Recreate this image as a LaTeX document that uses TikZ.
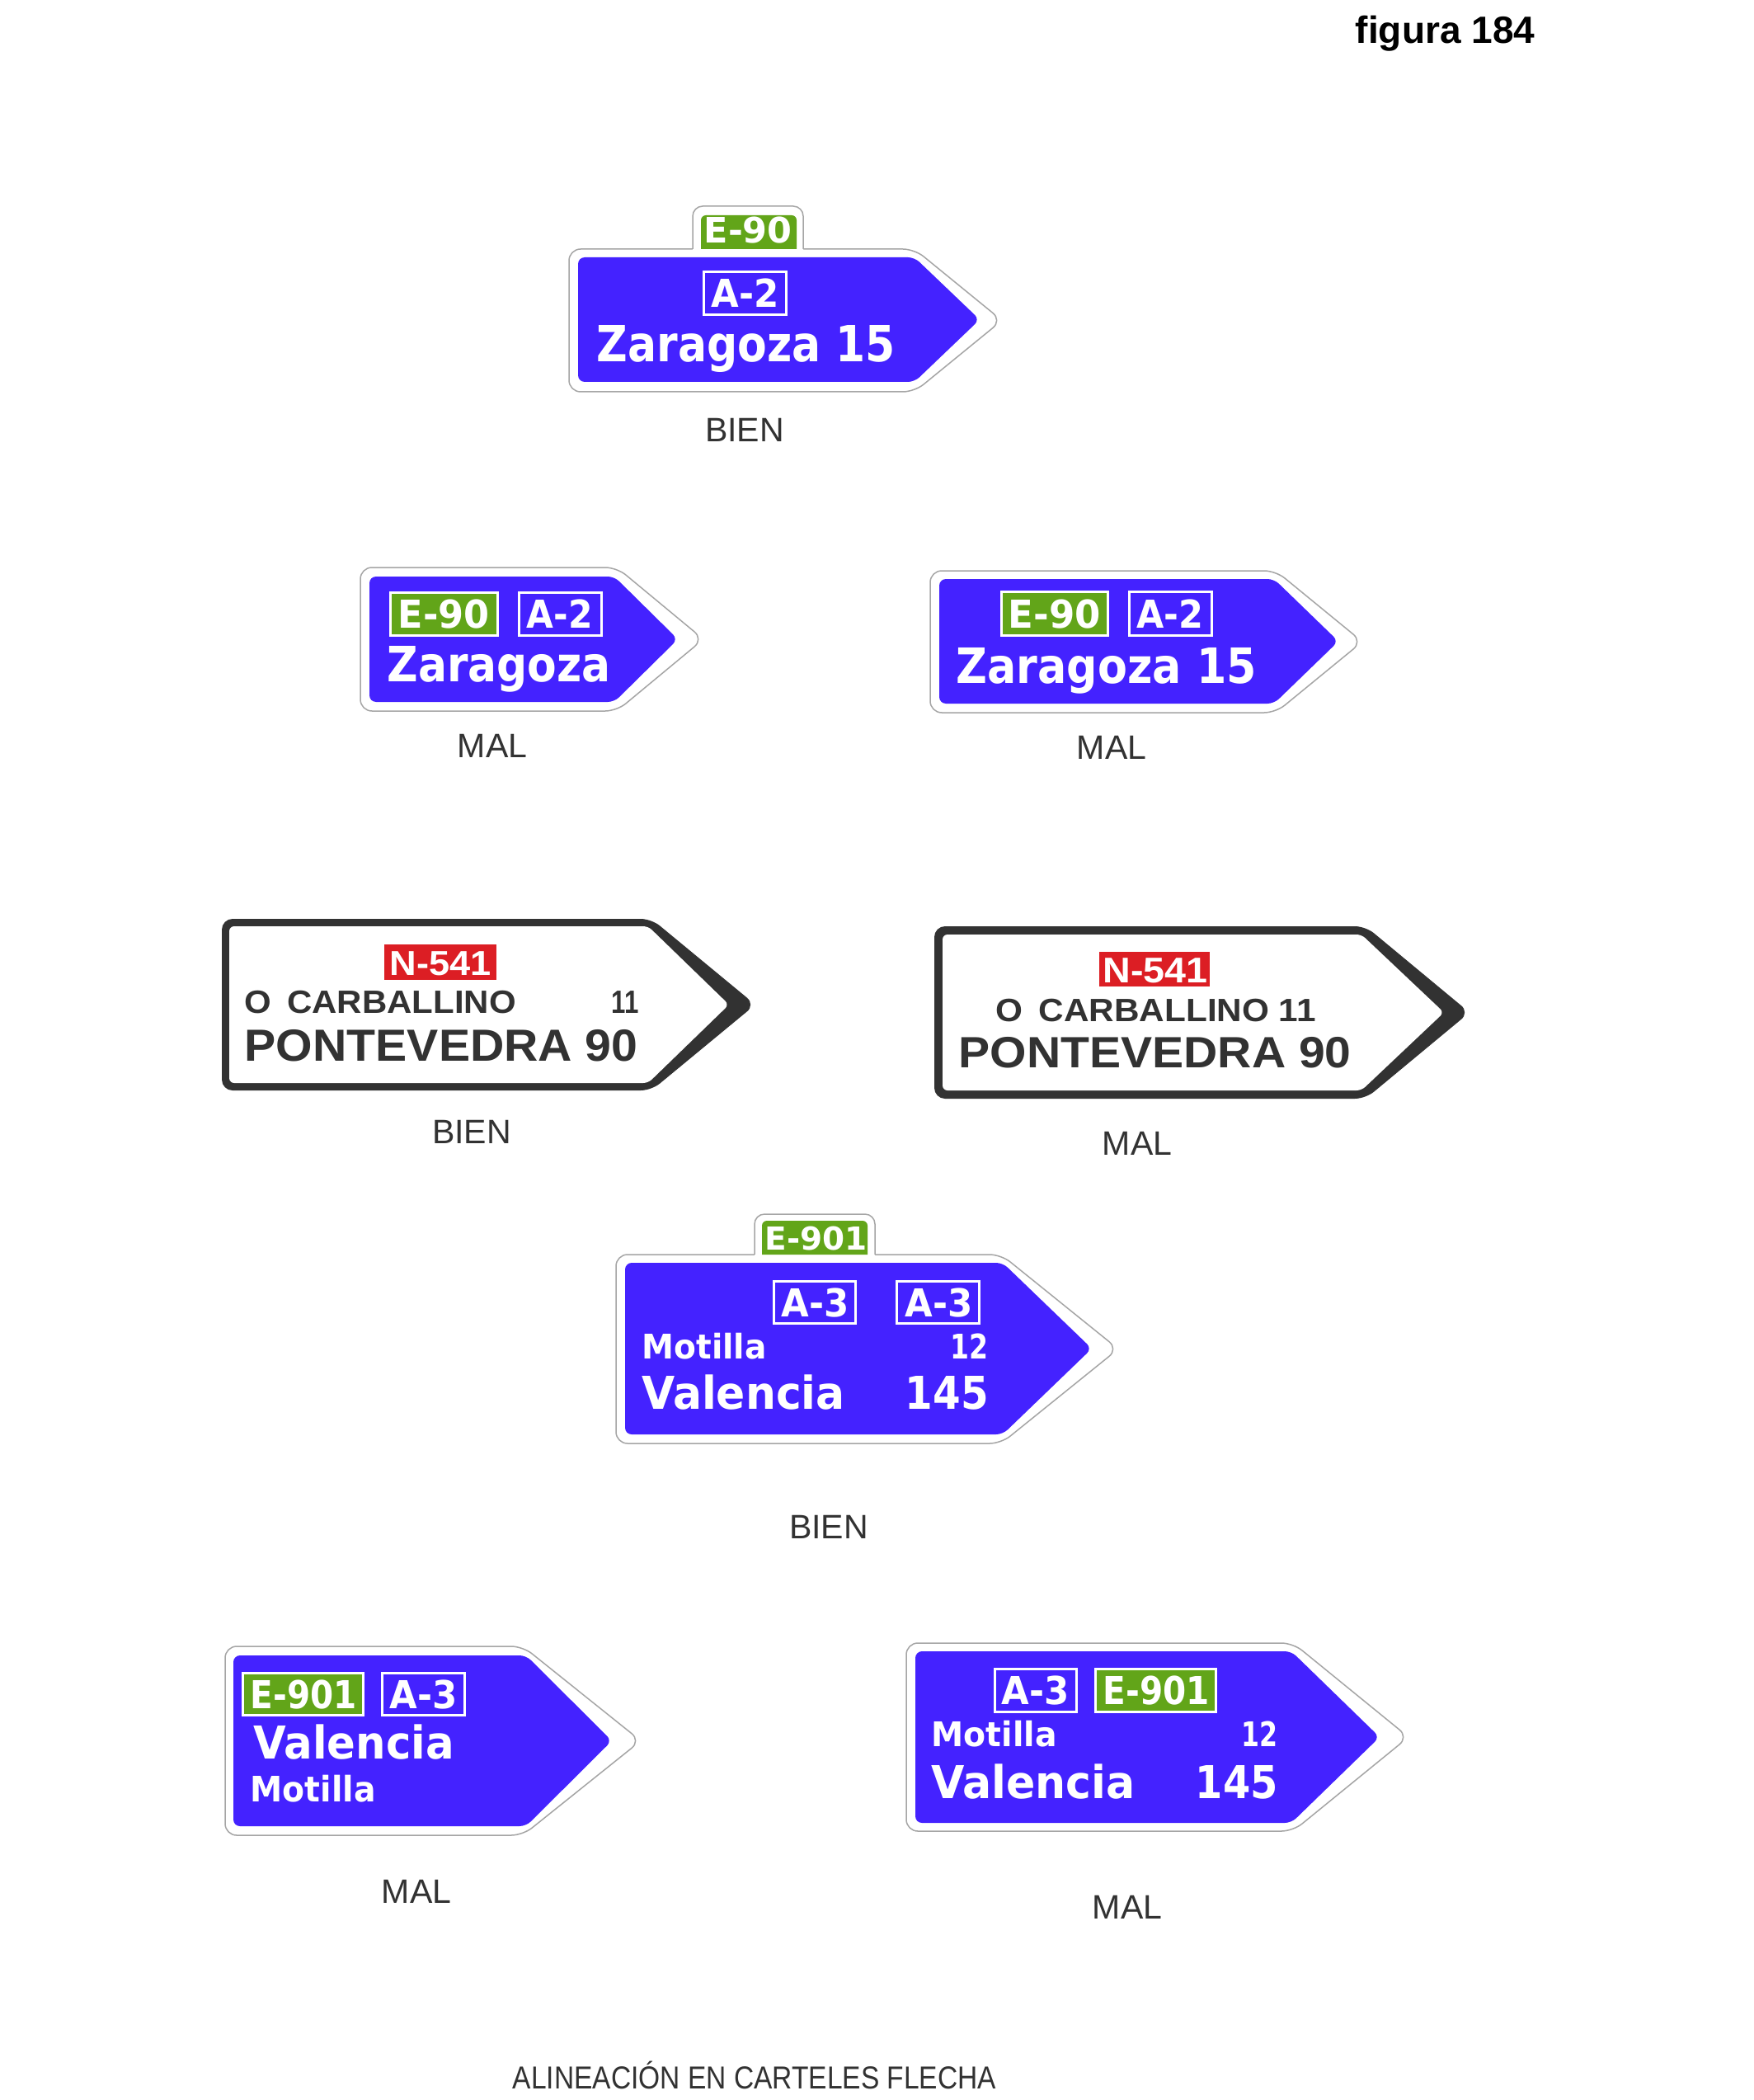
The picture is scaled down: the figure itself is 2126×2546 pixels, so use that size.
\documentclass[tikz,border=0pt]{standalone}
\usepackage{fontspec}
\usepackage{graphicx}
\setmainfont{Liberation Sans}
\newfontfamily\signfont{DejaVu Sans}
\newfontfamily\wfont{Liberation Sans}
\definecolor{sblue}{RGB}{68,34,255}
\definecolor{sgreen}{RGB}{98,165,25}
\definecolor{sred}{RGB}{220,30,36}
\definecolor{sgray}{RGB}{165,165,165}
\definecolor{sdark}{RGB}{50,50,50}
\newlength\pxu \setlength\pxu{0.01cm}
\tikzset{
  signouter/.style={fill=white, draw=sgray, line width=0.015cm, rounded corners=0.14cm},
  signblue/.style={fill=sblue, rounded corners=0.08cm},
  wouter/.style={fill=sdark, rounded corners=0.13cm},
  winner/.style={fill=white, rounded corners=0.06cm},
  bluebox/.style={fill=sblue, draw=white, line width=0.03cm},
  greenbox/.style={fill=sgreen, draw=white, line width=0.03cm},
  redbox/.style={fill=sred},
  btxt/.style={anchor=base west, inner sep=0pt, text=white},
  wtxt/.style={anchor=base west, inner sep=0pt, text=sdark},
  lbl/.style={anchor=base, inner sep=0pt, text=sdark, font=\fontsize{11.67pt}{11.67pt}\selectfont},
}
% blue-sign text: name, x, baseline, cap height, width, text
\newcommand\bt[6]{\node[btxt, font=\signfont\bfseries\fontsize{\fpeval{#4*0.3903}pt}{\fpeval{#4*0.3903}pt}\selectfont] (#1) at (#2,#3) {\resizebox{#5\pxu}{\height}{#6}};}
% white-sign text
\newcommand\wt[6]{\node[wtxt, font=\wfont\bfseries\fontsize{\fpeval{#4*0.3974}pt}{\fpeval{#4*0.3974}pt}\selectfont] (#1) at (#2,#3) {\resizebox{#5\pxu}{\height}{#6}};}
% white text on red plate
\newcommand\rt[6]{\node[btxt, font=\wfont\bfseries\fontsize{\fpeval{#4*0.3974}pt}{\fpeval{#4*0.3974}pt}\selectfont] (#1) at (#2,#3) {\resizebox{#5\pxu}{\height}{#6}};}
% arrow shape: style, left, top, start, tip, bottom
\newcommand\arrowshape[6]{\path[#1] (#2,#3) -- (#4,#3) -- (#5,{(#3+#6)/2}) -- (#4,#6) -- (#2,#6) -- cycle;}
\begin{document}
\begin{tikzpicture}[x=0.01cm, y=-0.01cm]
\useasboundingbox (0,0) rectangle (2126,2546);
\fill[white] (0,0) rectangle (2126,2546);

% ---------- title ----------
\node[anchor=base west, inner sep=0pt, font=\bfseries\fontsize{13.1pt}{13.1pt}\selectfont] (fig) at (1643,53) {figura 184};

% ---------- sign 1 (BIEN) ----------
\arrowshape{signouter}{690}{302}{1109}{1215}{475}
\fill[white, rounded corners=0.12cm] (840,306) -- (840,250) -- (974,250) -- (974,306);
\draw[sgray, line width=0.015cm, rounded corners=0.12cm] (840,302) -- (840,250) -- (974,250) -- (974,302);
\fill[sgreen, rounded corners=0.06cm] (850,302) -- (850,261) -- (966,261) -- (966,302);
\arrowshape{signblue}{701}{312}{1109}{1188}{463}
\path[bluebox] (853,330) rectangle (953,382);
\bt{s1e}{853}{295}{31}{107}{E-90}
\bt{s1a}{862}{373}{34}{82}{A-2}
\bt{s1z}{723}{439}{44}{362}{Zaragoza 15}
\node[lbl] (l1) at (903,536) {BIEN};

% ---------- sign 2 (MAL) ----------
\arrowshape{signouter}{437}{688}{748}{853}{862}
\arrowshape{signblue}{448}{699}{745}{822}{851}
\path[greenbox] (473,718) rectangle (603,770);
\path[bluebox] (629,718) rectangle (729,770);
\bt{s2e}{482}{761}{34}{111}{E-90}
\bt{s2a}{638}{761}{34}{80}{A-2}
\bt{s2z}{469}{826}{43}{271}{Zaragoza}
\node[lbl] (l2) at (597,918) {MAL};

% ---------- sign 3 (MAL) ----------
\arrowshape{signouter}{1128}{692}{1547}{1652}{864}
\arrowshape{signblue}{1139}{702}{1545}{1623}{853}
\path[greenbox] (1214,717) rectangle (1343,770);
\path[bluebox] (1369,717) rectangle (1469,770);
\bt{s3e}{1222}{761}{34}{112}{E-90}
\bt{s3a}{1378}{761}{34}{81}{A-2}
\bt{s3z}{1159}{828}{43}{364}{Zaragoza 15}
\node[lbl] (l3) at (1348,920) {MAL};

% ---------- sign 4 (BIEN) ----------
\arrowshape{wouter}{269}{1114}{790}{916}{1322}
\arrowshape{winner}{278}{1123}{786}{884}{1313}
\path[redbox] (466,1145) rectangle (602,1188);
\rt{s4n}{472}{1182}{30}{123}{N-541}
\wt{s4c}{296}{1228}{28}{329}{O\hspace{0.45em}CARBALLINO}
\wt{s4k}{741}{1228}{28}{33}{11}
\wt{s4p}{296}{1286}{39}{477}{PONTEVEDRA 90}
\node[lbl] (l4) at (572,1386) {BIEN};

% ---------- sign 5 (MAL) ----------
\arrowshape{wouter}{1133}{1123}{1656}{1782}{1332}
\arrowshape{winner}{1143}{1133}{1651}{1751}{1322}
\path[redbox] (1333,1154) rectangle (1467,1196);
\rt{s5n}{1337}{1191}{31}{127}{N-541}
\wt{s5c}{1207}{1238}{28}{388}{O\hspace{0.45em}CARBALLINO 11}
\wt{s5p}{1162}{1294}{38}{476}{PONTEVEDRA 90}
\node[lbl] (l5) at (1379,1400) {MAL};

% ---------- sign 6 (BIEN) ----------
\arrowshape{signouter}{747}{1521}{1214}{1356}{1750}
\fill[white, rounded corners=0.12cm] (915,1525) -- (915,1472) -- (1061,1472) -- (1061,1525);
\draw[sgray, line width=0.015cm, rounded corners=0.12cm] (915,1521) -- (915,1472) -- (1061,1472) -- (1061,1521);
\fill[sgreen, rounded corners=0.06cm] (924,1521) -- (924,1480) -- (1052,1480) -- (1052,1521);
\arrowshape{signblue}{758}{1531}{1216}{1324}{1739}
\path[bluebox] (938,1553) rectangle (1037,1604);
\path[bluebox] (1087,1553) rectangle (1187,1604);
\bt{s6e}{927}{1515}{28}{124}{E-901}
\bt{s6a}{947}{1596}{34}{82}{A-3}
\bt{s6b}{1097}{1596}{34}{82}{A-3}
\bt{s6m}{778}{1647}{30}{151}{Motilla}
\bt{s6k}{1152}{1647}{30}{46}{12}
\bt{s6v}{778}{1708}{40}{246}{Valencia}
\bt{s6d}{1097}{1708}{40}{101}{145}
\node[lbl] (l6) at (1005,1865) {BIEN};

% ---------- sign 7 (MAL) ----------
\arrowshape{signouter}{273}{1996}{634}{777}{2225}
\arrowshape{signblue}{283}{2007}{638}{742}{2214}
\path[greenbox] (294,2028) rectangle (440,2079);
\path[bluebox] (463,2028) rectangle (563,2079);
\bt{s7e}{303}{2071}{34}{129}{E-901}
\bt{s7a}{472}{2071}{34}{82}{A-3}
\bt{s7v}{307}{2132}{40}{243}{Valencia}
\bt{s7m}{303}{2184}{31}{152}{Motilla}
\node[lbl] (l7) at (505,2307) {MAL};

% ---------- sign 8 (MAL) ----------
\arrowshape{signouter}{1099}{1992}{1568}{1708}{2220}
\arrowshape{signblue}{1110}{2002}{1566}{1673}{2210}
\path[bluebox] (1206,2023) rectangle (1305,2075);
\path[greenbox] (1328,2023) rectangle (1474,2075);
\bt{s8a}{1214}{2066}{34}{82}{A-3}
\bt{s8e}{1337}{2066}{34}{129}{E-901}
\bt{s8m}{1129}{2117}{30}{152}{Motilla}
\bt{s8k}{1505}{2117}{30}{44}{12}
\bt{s8v}{1129}{2180}{40}{247}{Valencia}
\bt{s8d}{1449}{2180}{40}{100}{145}
\node[lbl] (l8) at (1367,2326) {MAL};

% ---------- caption ----------
\node[anchor=base, inner sep=0pt, text=sdark, font=\fontsize{9.53pt}{9.53pt}\selectfont] (cap) at (915,2532) {\scalebox{1}[1.15]{ALINEACIÓN EN CARTELES FLECHA}};
\end{tikzpicture}
\end{document}
